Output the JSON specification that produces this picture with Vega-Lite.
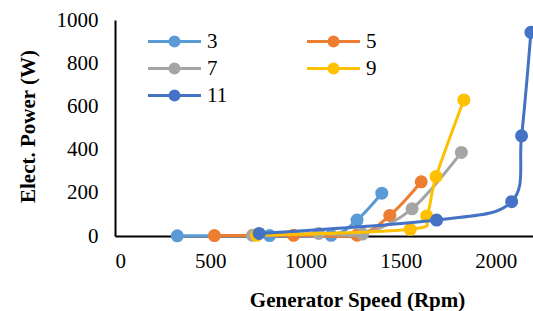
{
  "$schema": "https://vega.github.io/schema/vega-lite/v6.json",
  "width": 418,
  "height": 216,
  "autosize": {"type": "none"},
  "padding": {"left": 115, "top": 20, "right": 0, "bottom": 75},
  "background": "white",
  "config": {
    "view": {"stroke": null},
    "font": "Liberation Serif"
  },
  "data": {"values": [
    {"series": "3", "speed": 327, "power": 1},
    {"series": "3", "speed": 812, "power": 2},
    {"series": "3", "speed": 1135, "power": 3},
    {"series": "3", "speed": 1271, "power": 74},
    {"series": "3", "speed": 1401, "power": 198},
    {"series": "5", "speed": 522, "power": 2},
    {"series": "5", "speed": 938, "power": 3},
    {"series": "5", "speed": 1271, "power": 4},
    {"series": "5", "speed": 1443, "power": 95},
    {"series": "5", "speed": 1608, "power": 251},
    {"series": "7", "speed": 722, "power": 3},
    {"series": "7", "speed": 1070, "power": 12},
    {"series": "7", "speed": 1300, "power": 9},
    {"series": "7", "speed": 1560, "power": 126},
    {"series": "7", "speed": 1819, "power": 387},
    {"series": "9", "speed": 743, "power": 3},
    {"series": "9", "speed": 1550, "power": 31},
    {"series": "9", "speed": 1637, "power": 93},
    {"series": "9", "speed": 1686, "power": 275},
    {"series": "9", "speed": 1832, "power": 630},
    {"series": "11", "speed": 757, "power": 12},
    {"series": "11", "speed": 1689, "power": 74},
    {"series": "11", "speed": 2083, "power": 159},
    {"series": "11", "speed": 2135, "power": 464},
    {"series": "11", "speed": 2184, "power": 943}
  ]},
  "encoding": {
    "x": {"field": "speed", "type": "quantitative",
      "scale": {"domain": [0, 2195], "nice": false, "zero": true},
      "axis": {"values": [0, 500, 1000, 1500, 2000], "format": "d", "grid": false, "ticks": false,
        "domainColor": "#000", "domainWidth": 2, "labelFont": "Liberation Serif", "labelColor": "#000", "labelFontSize": 21, "labelPadding": 14,
        "title": "Generator Speed (Rpm)", "titleFont": "Liberation Serif", "titleColor": "#000", "titleFontSize": 21, "titleFontWeight": "bold", "titlePadding": 18, "titleX": 242}},
    "y": {"field": "power", "type": "quantitative",
      "scale": {"domain": [0, 1000], "nice": false},
      "axis": {"values": [0, 200, 400, 600, 800, 1000], "format": "d", "grid": false, "ticks": false,
        "domainColor": "#000", "domainWidth": 2, "labelFont": "Liberation Serif", "labelColor": "#000", "labelFontSize": 21, "labelPadding": 17,
        "title": "Elect. Power (W)", "titleFont": "Liberation Serif", "titleColor": "#000", "titleFontSize": 21, "titleFontWeight": "bold", "titlePadding": 18, "titleY": 106}},
    "color": {"field": "series", "type": "nominal",
      "scale": {"domain": ["3", "5", "7", "9", "11"], "range": ["#5B9BD5", "#ED7D31", "#A5A5A5", "#FFC000", "#4472C4"]},
      "legend": {"title": null, "orient": "none", "legendX": 48, "legendY": 10, "columns": 2, "direction": "horizontal",
        "columnPadding": 73, "rowPadding": 5, "labelFontSize": 21, "labelFont": "Liberation Serif", "labelColor": "#000",
        "symbolType": "M-2.65,0 L-0.45,0 M0.45,0 L2.65,0 M-0.45,0 A0.45,0.45 0 1,1 0.45,0 A0.45,0.45 0 1,1 -0.45,0 Z",
        "symbolSize": 400, "symbolStrokeWidth": 3, "labelOffset": 21,
        "encode": {"symbols": {"update": {
          "fill": {"scale": "color", "field": "value"},
          "stroke": {"scale": "color", "field": "value"},
          "strokeWidth": {"value": 3},
          "fillOpacity": {"value": 1},
          "opacity": {"value": 1}}}}}
    }
  },
  "layer": [
    {"transform": [{"filter": "datum.series === '3'"}], "mark": {"type": "line", "interpolate": "cardinal", "tension": 0, "strokeWidth": 3, "point": {"filled": true, "size": 170, "opacity": 1}}},
    {"transform": [{"filter": "datum.series === '5'"}], "mark": {"type": "line", "interpolate": "cardinal", "tension": 0, "strokeWidth": 3, "point": {"filled": true, "size": 170, "opacity": 1}}},
    {"transform": [{"filter": "datum.series === '7'"}], "mark": {"type": "line", "interpolate": "cardinal", "tension": 0, "strokeWidth": 3, "point": {"filled": true, "size": 170, "opacity": 1}}},
    {"transform": [{"filter": "datum.series === '9'"}], "mark": {"type": "line", "interpolate": "cardinal", "tension": 0, "strokeWidth": 3, "point": {"filled": true, "size": 170, "opacity": 1}}},
    {"transform": [{"filter": "datum.series === '11'"}], "mark": {"type": "line", "interpolate": "cardinal", "tension": 0, "strokeWidth": 3, "point": {"filled": true, "size": 170, "opacity": 1}}}
  ]
}
